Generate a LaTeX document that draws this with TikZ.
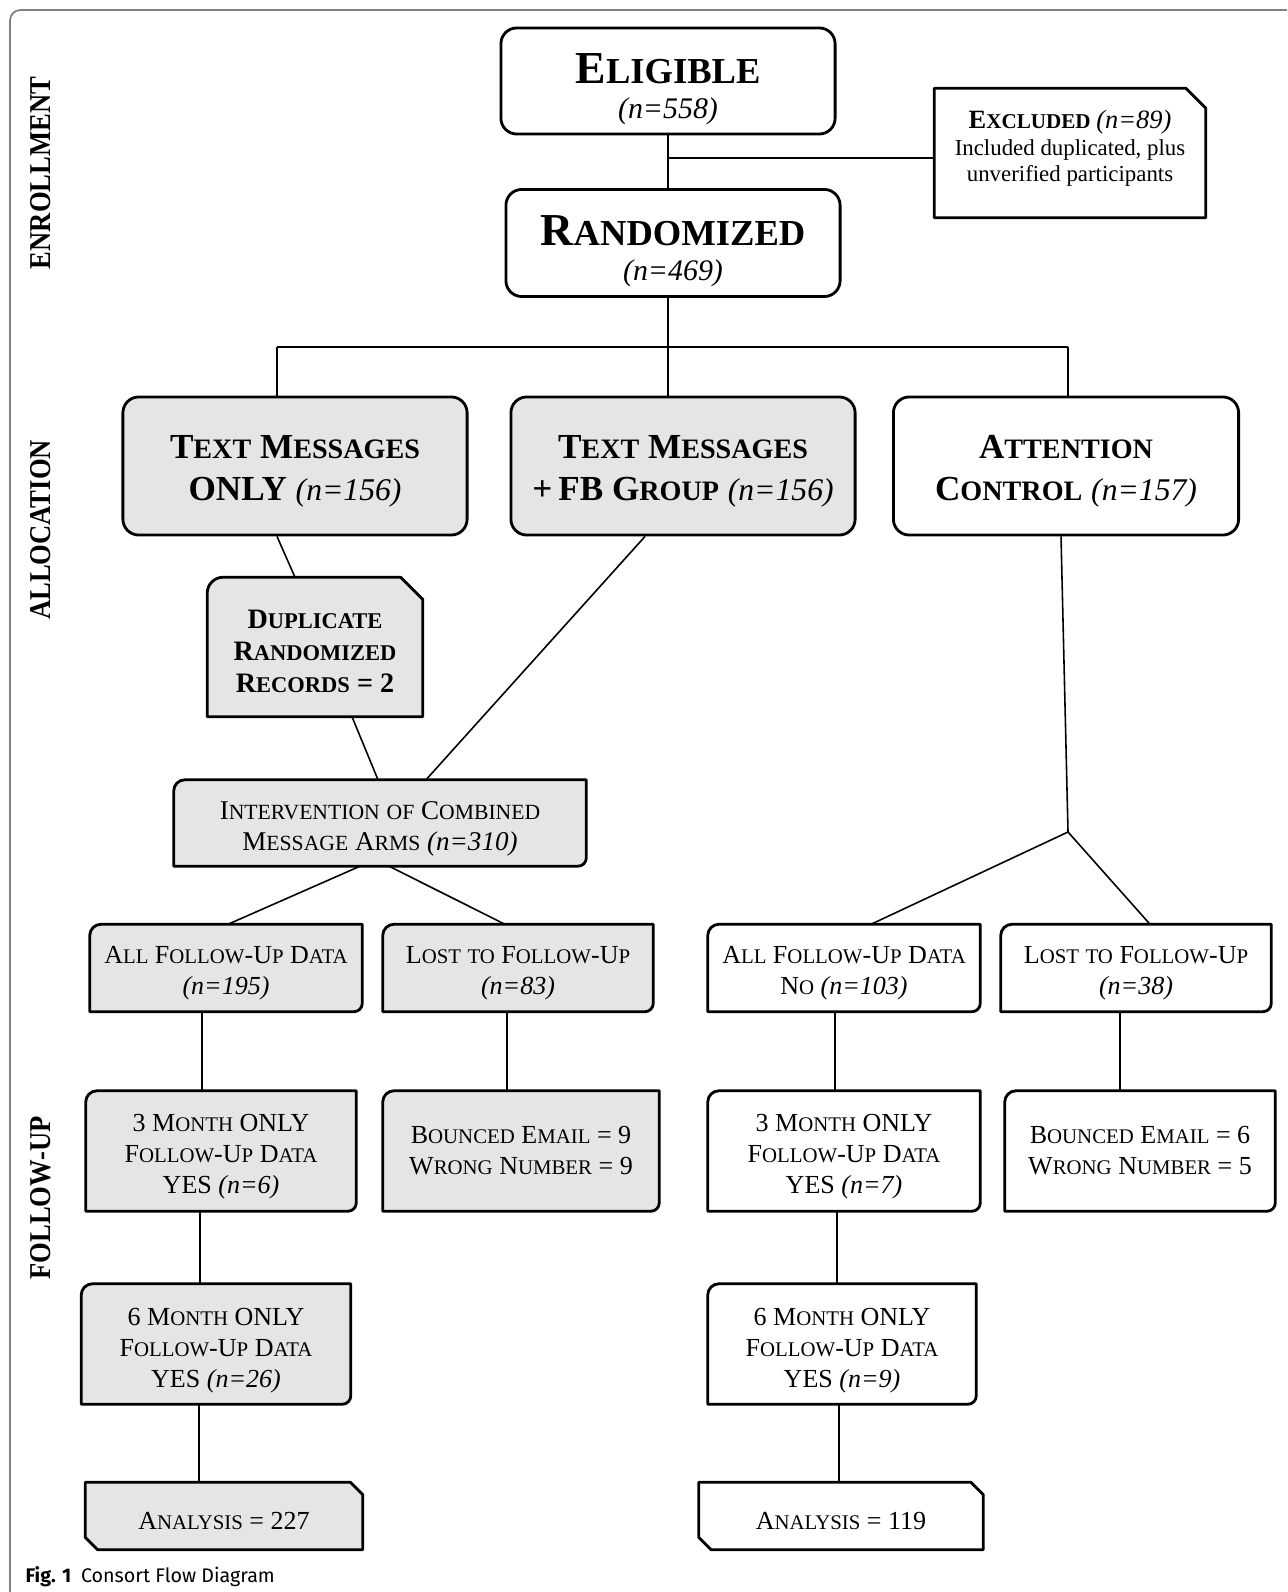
\documentclass[tikz,border=0pt]{standalone}
\usepackage{graphicx}
\usepackage{fontspec}
\setmainfont{Liberation Serif}
\newfontfamily\phasefont{Liberation Serif}[FakeStretch=0.88]
\newfontfamily\capfont{Fira Sans}
\usetikzlibrary{backgrounds}

\definecolor{armgray}{gray}{0.9}
\definecolor{framegray}{gray}{0.5}

% first letter full size, the rest in small capitals
\def\swaux#1#2\relax{#1\scalebox{0.8}{#2}}
\newcommand{\sw}[1]{\swaux#1\relax}
\newcommand{\lsc}[1]{\scalebox{0.8}{#1}}
\newcommand{\lift}[1]{\rule{0pt}{#1}}

% outlines drawn round an undrawn node
\newcommand{\tlbr}[2]{%
  \draw[boxline,#2] ([yshift=-3.2pt]#1.north west) arc[start angle=180,end angle=90,radius=3.2pt]
    -- (#1.north east) -- ([yshift=2.4pt]#1.south east) arc[start angle=0,end angle=-90,radius=2.4pt]
    -- (#1.south west) -- cycle;}
\newcommand{\snipbox}[3]{%
  \draw[boxline,#2] (#1.north west) -- ([xshift=-#3]#1.north east) -- ([yshift=-#3]#1.north east)
    -- (#1.south east) -- (#1.south west) -- cycle;}
\newcommand{\dupbox}[3]{%
  \draw[boxline,#2] ([yshift=-4.5pt]#1.north west) arc[start angle=180,end angle=90,radius=4.5pt]
    -- ([xshift=-#3]#1.north east) -- ([yshift=-#3]#1.north east)
    -- (#1.south east) -- (#1.south west) -- cycle;}
\newcommand{\tagbox}[3]{%
  \draw[boxline,#2] (#1.north west) -- ([xshift=-#3]#1.north east) -- ([yshift=-#3]#1.north east)
    -- (#1.south east) -- ([xshift=#3]#1.south west) -- ([yshift=#3]#1.south west) -- cycle;}

\tikzset{
  boxline/.style={line width=0.8pt, line join=round},
  box/.style={rectangle, inner sep=0pt, align=center},
  roundbox/.style={box, draw, boxline, rounded corners=4.5pt},
  link/.style={line width=0.45pt},
  phase/.style={rotate=90, font=\phasefont\fontsize{8.6}{10}\selectfont\bfseries},
  bigfont/.style={font=\fontsize{13}{10}\selectfont\bfseries},
  armfont/.style={font=\fontsize{10}{12}\selectfont\bfseries},
  smallfont/.style={font=\fontsize{7.4}{8.8}\selectfont},
}

\begin{document}
\begin{tikzpicture}[x=0.01cm, y=-0.01cm]
\useasboundingbox (0,0) rectangle (1287,1592);
\draw[framegray, line width=0.5pt, rounded corners=3pt] (1287,10) -- (10,10) -- (10,1592);

\node[phase] (enr) at (41,173) {ENROLLMENT};
\node[phase] (alc) at (41,530) {ALLOCATION};
\node[phase] (fol) at (41,1198) {FOLLOW-UP};

\node[roundbox, bigfont, minimum width=3.34cm, minimum height=1.06cm] (eli) at (668,81)
  {\lift{13pt}\sw{ELIGIBLE}\\{\fontsize{8.5}{10}\selectfont\mdseries\itshape (n=558)}};
\node[box, font=\fontsize{6.5}{7.6}\selectfont, minimum width=2.70cm, minimum height=1.28cm] (exc) at (1070,153)
  {{\fontsize{7.5}{7.6}\selectfont\bfseries\sw{EXCLUDED}} {\fontsize{7.5}{7.6}\selectfont\itshape (n=89)}\\Included duplicated, plus\\unverified participants\rule[-4pt]{0pt}{4pt}};
\node[roundbox, bigfont, minimum width=3.34cm, minimum height=1.07cm] (ran) at (673,243)
  {\lift{13pt}\sw{RANDOMIZED}\\{\fontsize{8.5}{10}\selectfont\mdseries\itshape (n=469)}};

\node[roundbox, armfont, fill=armgray, minimum width=3.44cm, minimum height=1.38cm] (tmo) at (295,466)
  {\lift{9.5pt}\sw{TEXT} \sw{MESSAGES}\\ONLY {\fontsize{9}{10}\selectfont\mdseries\itshape (n=156)}};
\node[roundbox, armfont, fill=armgray, minimum width=3.44cm, minimum height=1.38cm] (tmfb) at (683,466)
  {\lift{9.5pt}\sw{TEXT} \sw{MESSAGES}\\+\,FB \sw{GROUP} {\fontsize{9}{10}\selectfont\mdseries\itshape (n=156)}};
\node[roundbox, armfont, minimum width=3.45cm, minimum height=1.38cm] (att) at (1066,466)
  {\lift{9.5pt}\sw{ATTENTION}\\\sw{CONTROL} {\fontsize{9}{10}\selectfont\mdseries\itshape (n=157)}};

\node[box, font=\fontsize{8}{9.1}\selectfont\bfseries, minimum width=2.14cm, minimum height=1.38cm] (dup) at (315,647)
  {\lift{8pt}\sw{DUPLICATE}\\\sw{RANDOMIZED}\\\sw{RECORDS} = 2};
\node[box, font=\fontsize{7.7}{8.8}\selectfont, minimum width=4.11cm, minimum height=0.85cm] (int) at (380,823)
  {\lift{8.5pt}\sw{INTERVENTION} \lsc{OF} \sw{COMBINED}\\\sw{MESSAGE} \sw{ARMS} \textit{(n=310)}};

\node[box, smallfont, minimum width=2.71cm, minimum height=0.86cm] (fuL) at (226,968)
  {\lift{7.6pt}\sw{ALL} \sw{FOLLOW}-\sw{UP} \sw{DATA}\\\textit{(n=195)}};
\node[box, smallfont, minimum width=2.69cm, minimum height=0.86cm] (lostL) at (518,968)
  {\lift{7.6pt}\sw{LOST} \lsc{TO} \sw{FOLLOW}-\sw{UP}\\\textit{(n=83)}};
\node[box, smallfont, minimum width=2.71cm, minimum height=0.86cm] (fuR) at (844,968)
  {\lift{7.6pt}\sw{ALL} \sw{FOLLOW}-\sw{UP} \sw{DATA}\\\sw{NO} \textit{(n=103)}};
\node[box, smallfont, minimum width=2.69cm, minimum height=0.86cm] (lostR) at (1136,968)
  {\lift{7.6pt}\sw{LOST} \lsc{TO} \sw{FOLLOW}-\sw{UP}\\\textit{(n=38)}};

\node[box, smallfont, minimum width=2.69cm, minimum height=1.19cm] (m3L) at (221,1151)
  {\lift{8.2pt}3 \sw{MONTH} ONLY\\\sw{FOLLOW}-\sw{UP} \sw{DATA}\\YES \textit{(n=6)}};
\node[box, smallfont, minimum width=2.75cm, minimum height=1.19cm] (bncL) at (521,1151)
  {\sw{BOUNCED} \sw{EMAIL} = 9\\\sw{WRONG} \sw{NUMBER} = 9};
\node[box, smallfont, minimum width=2.71cm, minimum height=1.19cm] (m3R) at (844,1151)
  {\lift{8.2pt}3 \sw{MONTH} ONLY\\\sw{FOLLOW}-\sw{UP} \sw{DATA}\\YES \textit{(n=7)}};
\node[box, smallfont, minimum width=2.69cm, minimum height=1.19cm] (bncR) at (1140,1151)
  {\sw{BOUNCED} \sw{EMAIL} = 6\\\sw{WRONG} \sw{NUMBER} = 5};

\node[box, smallfont, minimum width=2.68cm, minimum height=1.19cm] (m6L) at (216,1344)
  {\lift{8.8pt}6 \sw{MONTH} ONLY\\\sw{FOLLOW}-\sw{UP} \sw{DATA}\\YES \textit{(n=26)}};
\node[box, smallfont, minimum width=2.67cm, minimum height=1.19cm] (m6R) at (842,1344)
  {\lift{8.8pt}6 \sw{MONTH} ONLY\\\sw{FOLLOW}-\sw{UP} \sw{DATA}\\YES \textit{(n=9)}};

\node[box, smallfont, minimum width=2.76cm, minimum height=0.66cm] (anL) at (224,1516)
  {\lift{7.6pt}\sw{ANALYSIS} = 227};
\node[box, smallfont, minimum width=2.83cm, minimum height=0.66cm] (anR) at (841,1516)
  {\lift{7.6pt}\sw{ANALYSIS} = 119};

\node[anchor=west, inner sep=0pt, font=\capfont\fontsize{5.6}{7}\selectfont] (cap) at (25,1577)
  {\textbf{Fig. 1}\enspace Consort Flow Diagram};

\begin{scope}[on background layer]
  \snipbox{exc}{fill=white}{5.7pt}
  \dupbox{dup}{fill=armgray}{6.3pt}
  \tlbr{int}{fill=armgray}
  \tlbr{fuL}{fill=armgray}
  \tlbr{lostL}{fill=armgray}
  \tlbr{fuR}{fill=white}
  \tlbr{lostR}{fill=white}
  \tlbr{m3L}{fill=armgray}
  \tlbr{bncL}{fill=armgray}
  \tlbr{m3R}{fill=white}
  \tlbr{bncR}{fill=white}
  \tlbr{m6L}{fill=armgray}
  \tlbr{m6R}{fill=white}
  \tagbox{anL}{fill=armgray}{3.5pt}
  \tagbox{anR}{fill=white}{3.5pt}
\end{scope}

\coordinate (exjoin) at (668,158);
\coordinate (barL) at (277,347);
\coordinate (barM) at (668,347);
\coordinate (barR) at (1068,347);
\coordinate (split) at (1068,832);

\draw[link] (eli.south) -- (eli.south |- ran.north)
            (exjoin) -- (exjoin -| exc.west)
            (ran.south -| barM) -- (barM)
            (barL) -- (barR)
            (barL) -- (barL |- tmo.north)
            (barM) -- (barM |- tmfb.north)
            (barR) -- (barR |- att.north);
\draw[link] (tmo.south -| 277,0) -- (dup.north -| 295,0)
            (dup.south -| 352,0) -- (int.north -| 378,0)
            (tmfb.south -| 645,0) -- (int.north -| 426,0)
            (int.south -| 360,0) -- (fuL.north -| 228,0)
            (int.south -| 389,0) -- (lostL.north -| 505,0)
            (att.south -| 1061,0) -- (split)
            (split) -- (fuR.north -| 871,0)
            (split) -- (lostR.north -| 1150,0);
\draw[link] (fuL.south -| 202,0) -- (m3L.north -| 202,0)
            (lostL.south -| 507,0) -- (bncL.north -| 507,0)
            (fuR.south -| 835,0) -- (m3R.north -| 835,0)
            (lostR.south -| 1120,0) -- (bncR.north -| 1120,0)
            (m3L.south -| 200,0) -- (m6L.north -| 200,0)
            (m3R.south -| 837,0) -- (m6R.north -| 837,0)
            (m6L.south -| 199,0) -- (anL.north -| 199,0)
            (m6R.south -| 839,0) -- (anR.north -| 839,0);
\end{tikzpicture}
\end{document}
